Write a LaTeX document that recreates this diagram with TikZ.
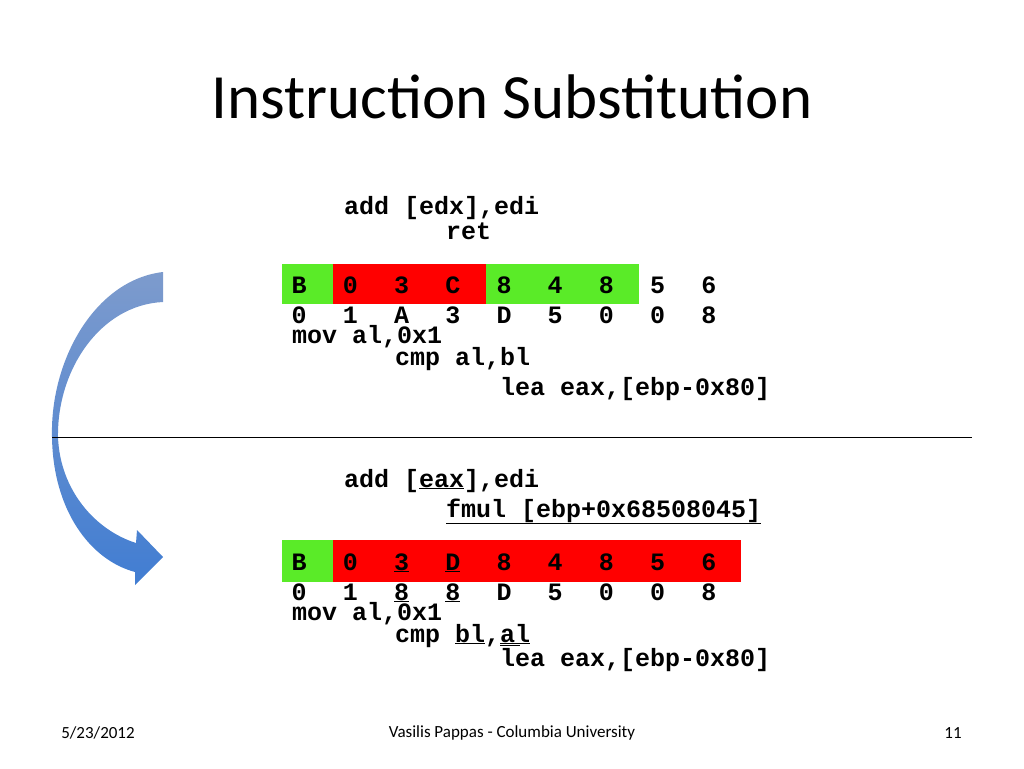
\documentclass[tikz,border=0pt]{standalone}
\usepackage{fontspec}
\setmainfont{Carlito}
\newfontfamily\codefont{Liberation Mono}
\definecolor{arrowTop}{RGB}{125,155,205}
\definecolor{arrowBottom}{RGB}{65,125,210}
\definecolor{byteGreen}{RGB}{90,235,40}
\begin{document}
\begin{tikzpicture}[x=1pt,y=-1pt,
  code/.style={font=\codefont\bfseries\fontsize{25}{25}\selectfont, inner sep=0pt, anchor=base west},
  byte/.style={font=\codefont\bfseries\fontsize{25}{25}\selectfont, inner sep=0pt, anchor=base},
  foot/.style={font=\fontsize{17}{17}\selectfont},
  cellgreen/.style={fill=byteGreen, draw=none},
  cellred/.style={fill=red, draw=none}]

% Frame
\useasboundingbox (0,0) rectangle (1024,768);

% Title and footer
\node (title) at (512,97) {\fontsize{63}{63}\selectfont Instruction Substitution};
\node[foot] (date) at (98,733) {5/23/2012};
\node[foot] (author) at (512,733) {Vasilis Pappas - Columbia University};
\node[foot] (page) at (953,733) {11};

% Bent arrow
\shade[top color=arrowTop, bottom color=arrowBottom, draw=none]
  (163,272) .. controls (95,280) and (50,360) .. (52,437)
  .. controls (53,510) and (90,560) .. (135,572) -- (135,585) -- (163,557)
  -- (137,530) -- (136,543) .. controls (95,530) and (60,490) .. (58,437)
  .. controls (57,370) and (100,305) .. (163,302) -- cycle;

% Divider
\coordinate (divL) at (52,437);
\coordinate (divR) at (972,437);
\draw[thick] (divL) -- (divR);

% Upper listing
\fill[cellgreen] (282,264) rectangle (333,304);
\fill[cellred] (333,264) rectangle (486,304);
\fill[cellgreen] (486,264) rectangle (639,304);
\foreach \b [count=\i] in {B,0,3,C,8,4,8,5,6}
  \node[byte] (up\i) at (248+51.2*\i,293) {\b};
\foreach \b [count=\i] in {0,1,A,3,D,5,0,0,8}
  \node[byte] (ul\i) at (248+51.2*\i,323) {\b};
\node[code] (addA) at (344,214) {add [edx],edi};
\node[code] (retA) at (446,239) {ret};
\node[code] (movA) at (292,343) {mov al,0x1};
\node[code] (cmpA) at (395,365) {cmp al,bl};
\node[code] (leaA) at (500,395) {lea eax,[ebp-0x80]};

% Lower listing
\fill[cellgreen] (282,540) rectangle (333,582);
\fill[cellred] (333,540) rectangle (741,582);
\foreach \b [count=\i] in {B,0,\underline{3},\underline{D},8,4,8,5,6}
  \node[byte] (dp\i) at (248+51.2*\i,570) {\b};
\foreach \b [count=\i] in {0,1,\underline{8},\underline{8},D,5,0,0,8}
  \node[byte] (dl\i) at (248+51.2*\i,600) {\b};
\node[code] (addB) at (344,487) {add [\underline{eax}],edi};
\node[code] (fmulB) at (446,517) {\underline{fmul [ebp+0x68508045]}};
\node[code] (movB) at (292,620) {mov al,0x1};
\node[code] (cmpB) at (395,642) {cmp \underline{bl},\underline{al}};
\node[code] (leaB) at (500,666) {lea eax,[ebp-0x80]};
\draw[thick] (leaB.north west) ++(0,-2) -- ++(20,0);
\end{tikzpicture}
\end{document}
